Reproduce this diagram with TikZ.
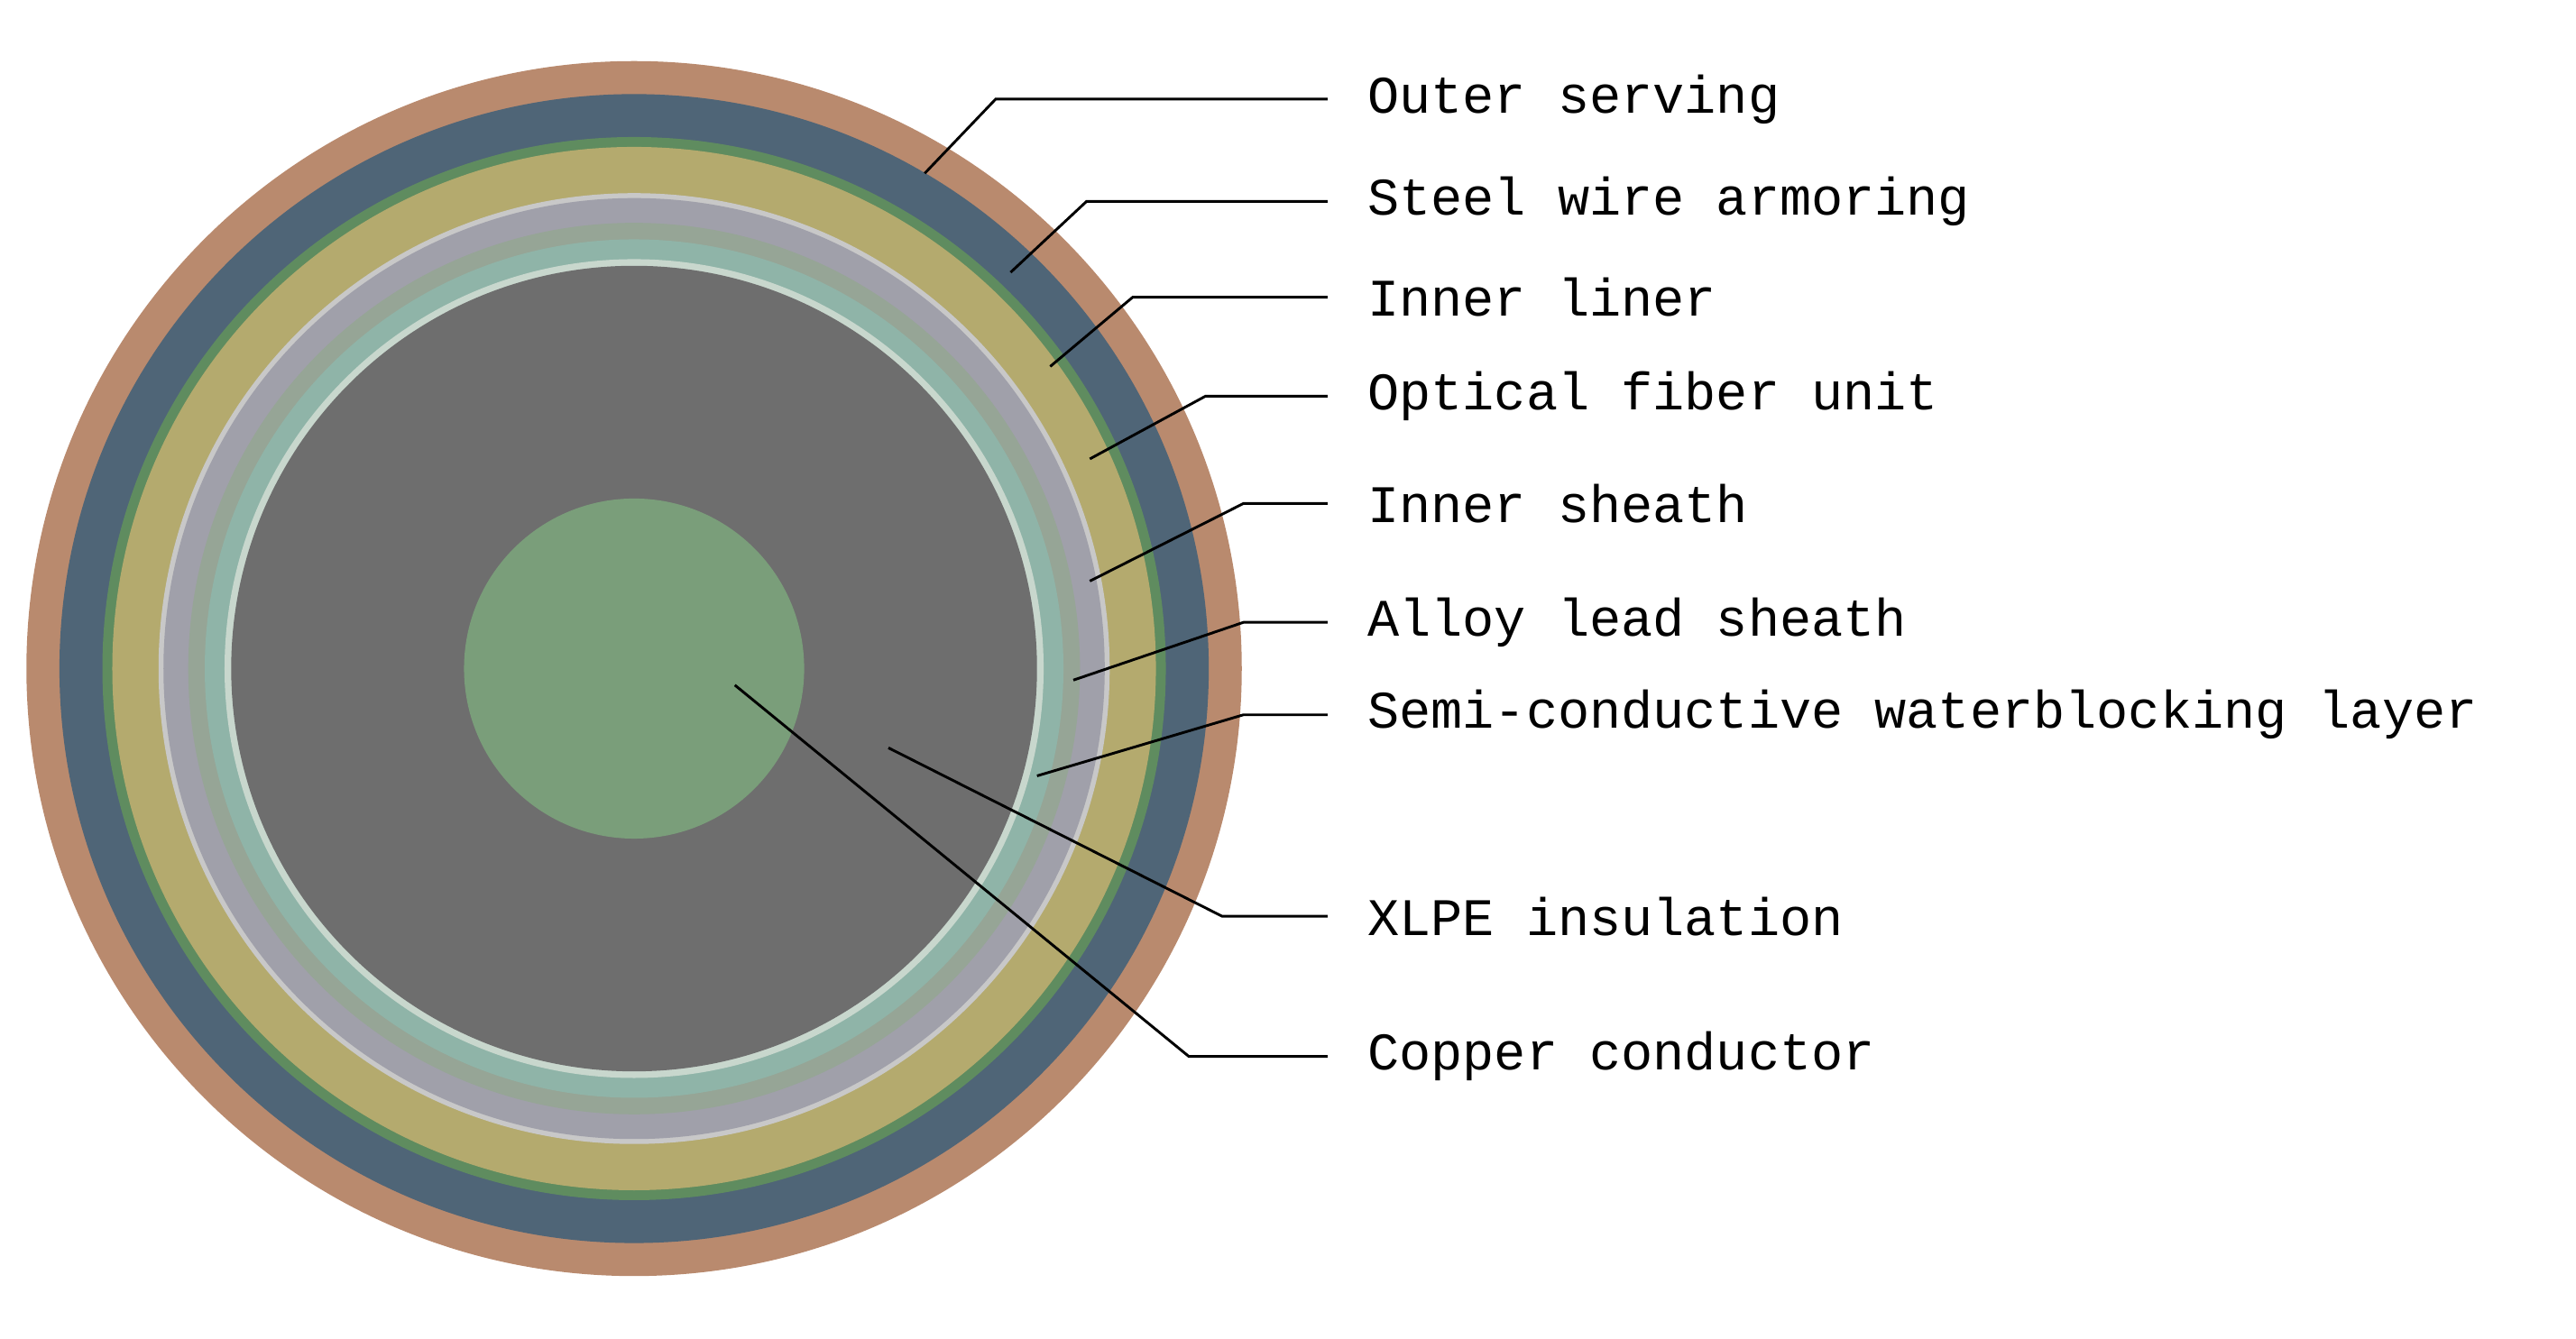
\documentclass[tikz,border=0pt]{standalone}
\usepackage{fontspec}
\setmainfont{Liberation Mono}
\begin{document}
\begin{tikzpicture}[x=1pt,y=-1pt,
  lbl/.style={anchor=west,inner sep=0pt,font=\fontsize{32}{34}\selectfont},
  lead/.style={line width=1.6pt,black}]
\useasboundingbox (0,0) rectangle (1560,811);
\coordinate (c) at (384,405);
\fill[fill={rgb,255:red,185;green,138;blue,110}] (c) circle[radius=368];
\fill[fill={rgb,255:red,79;green,101;blue,119}] (c) circle[radius=348];
\fill[fill={rgb,255:red,95;green,140;blue,95}] (c) circle[radius=322];
\fill[fill={rgb,255:red,180;green,170;blue,110}] (c) circle[radius=316];
\fill[fill={rgb,255:red,200;green,200;blue,200}] (c) circle[radius=288];
\fill[fill={rgb,255:red,160;green,160;blue,170}] (c) circle[radius=285];
\fill[fill={rgb,255:red,150;green,165;blue,150}] (c) circle[radius=270];
\fill[fill={rgb,255:red,143;green,180;blue,168}] (c) circle[radius=260];
\fill[fill={rgb,255:red,200;green,215;blue,205}] (c) circle[radius=248];
\fill[fill={rgb,255:red,110;green,110;blue,110}] (c) circle[radius=244];
\fill[fill={rgb,255:red,122;green,158;blue,122}] (c) circle[radius=103];

\foreach \n/\px/\py/\b/\y/\t in {
 os/560/105/603/60/Outer serving,
 sw/612/165/658/122/Steel wire armoring,
 il/636/222/686/180/Inner liner,
 of/660/278/730/240/Optical fiber unit,
 is/660/352/753/305/Inner sheath,
 al/650/412/753/377/Alloy lead sheath,
 sc/628/470/753/433/Semi-conductive waterblocking layer,
 xl/538/453/740/555/XLPE insulation,
 cu/445/415/720/640/Copper conductor}{
  \coordinate (p\n) at (\px,\py);
  \coordinate (k\n) at (\b,\y);
  \node[lbl] (t\n) at (828,\y) {\t};
  \draw[lead] (p\n) -- (k\n) -- ([xshift=-24pt]t\n.west);
}
\end{tikzpicture}
\end{document}
